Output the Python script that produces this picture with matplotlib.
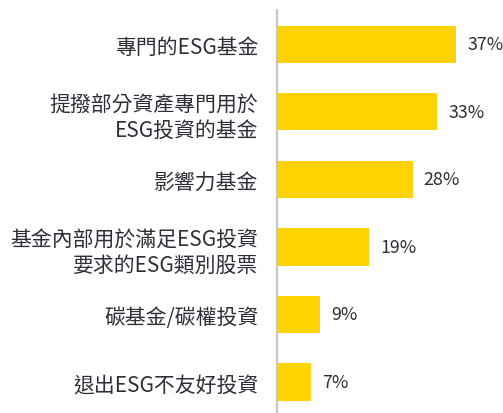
import matplotlib
matplotlib.use('Agg')
import matplotlib.pyplot as plt
import numpy as np

# Datos del gráfico
etiquetas = ['專門的ESG基金',
             '提撥部分資產專門用於\nESG投資的基金',
             '影響力基金',
             '基金內部用於滿足ESG投資\n要求的ESG類別股票',
             '碳基金/碳權投資',
             '退出ESG不友好投資']
valores = [37, 33, 28, 19, 9, 7]

plt.rcParams['font.family'] = ['Noto Sans CJK TC', 'DejaVu Sans']

color_barra = '#FFD300'
color_texto = '#2E2E38'

fig = plt.figure(figsize=(5.03, 4.14), dpi=100)
ax = fig.add_axes([276.5 / 503, 0, 1 - 276.5 / 503, 1 - 11 / 414])

pos = np.arange(len(valores))
ax.barh(pos, valores, height=0.55, color=color_barra)

# Etiquetas de valor a la derecha de cada barra
for p, v in zip(pos, valores):
    ax.text(v + 2.3, p, f'{v}%', va='center', ha='left',
            fontsize=12.8, color=color_texto)

ax.set_yticks(pos)
ax.set_yticklabels(etiquetas, fontsize=15, color=color_texto, linespacing=1.25)
ax.tick_params(axis='y', length=0, pad=13)

ax.set_xlim(0, 46.6)
ax.set_ylim(5.46, -0.51)
ax.set_xticks([])

for lado in ['top', 'right', 'bottom']:
    ax.spines[lado].set_visible(False)
ax.spines['left'].set_color('#C3C7CC')
ax.spines['left'].set_linewidth(1.6)

fig.savefig('out.png', dpi=100)
